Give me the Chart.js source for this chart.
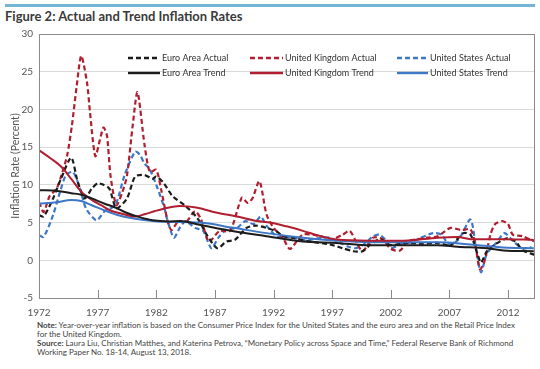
<!DOCTYPE html>
<html>
<head>
<meta charset="utf-8">
<script src="https://cdn.jsdelivr.net/npm/chart.js@4"></script>
<style>
    body { margin: 0; width: 540px; height: 369px; background: #fff; font-family: Lato, "Open Sans", sans-serif; color: #333; overflow: hidden; position: relative; }
    .top-bar { position: absolute; left: 5px; top: 4px; width: 530px; height: 3px; background: #74b4d4; }
    .title { position: absolute; left: 5px; top: 8px; font-size: 13px; font-weight: bold; color: #3a3a3a; }
    .chart-box { position: absolute; left: 0; top: 22px; width: 540px; height: 296px; }
    .notes { position: absolute; left: 37px; top: 321px; width: 500px; font-size: 8px; line-height: 8.8px; color: #444; white-space: nowrap; }
    .notes p { margin: 0 0 0.5px 0; }
</style>
</head>
<body>
<div class="top-bar"></div>
<div class="title">Figure 2: Actual and Trend Inflation Rates</div>
<div class="chart-box"><canvas id="inflationChart"></canvas></div>
<div class="notes">
    <p><b>Note:</b> Year-over-year inflation is based on the Consumer Price Index for the United States and the euro area and on the Retail Price Index<br>for the United Kingdom.</p>
    <p><b>Source:</b> Laura Liu, Christian Matthes, and Katerina Petrova, “Monetary Policy across Space and Time,” Federal Reserve Bank of Richmond<br>Working Paper No. 18-14, August 13, 2018.</p>
</div>
<script>
// Подписи оси X
const yearTicks = [1972, 1977, 1982, 1987, 1992, 1997, 2002, 2007, 2012];

// Фактическая инфляция: [год, %]
const euroActual = [[1972,6.0],[1972.4,5.8],[1973.2,8.2],[1973.9,10.9],[1974.75,13.6],[1975.3,10.4],[1975.9,8.2],[1976.5,9.5],[1977,10.2],[1977.5,10.0],[1978,9.5],[1978.6,6.9],[1979.5,8.2],[1980.2,11.1],[1981,11.3],[1981.7,10.8],[1982,11.1],[1982.6,10.3],[1983.4,8.5],[1984.5,7.2],[1985.5,5.6],[1986.3,3.4],[1987.2,1.6],[1988,2.5],[1988.7,2.7],[1989.7,4.3],[1990.5,4.6],[1991.4,4.3],[1992.3,3.8],[1992.8,3.2],[1993.9,2.9],[1995,2.5],[1996.8,2.1],[1997.9,1.6],[1998.8,1.2],[1999.6,1.2],[2000.2,2.0],[2001.1,2.8],[2002,2.0],[2003.1,2.3],[2004.6,2.2],[2006,2.3],[2007.1,2.0],[2008.2,3.6],[2008.8,3.4],[2009.4,0.8],[2009.7,-0.3],[2010.2,1.2],[2011,2.2],[2011.9,2.9],[2012.6,2.5],[2013.3,1.3],[2014.3,0.7]];
const ukActual = [[1972,7.7],[1972.4,6.4],[1972.9,8.5],[1973.5,9.5],[1973.9,11.2],[1974.4,13.9],[1974.8,17.8],[1975.2,22.9],[1975.6,27.1],[1976.1,23.5],[1976.35,19.6],[1976.8,13.8],[1977.2,16.0],[1977.5,17.6],[1977.8,16.5],[1978.1,11.2],[1978.6,7.3],[1979.1,9.0],[1979.5,11.2],[1980.0,18.0],[1980.4,22.3],[1981.0,15.3],[1981.45,11.7],[1982.0,12.0],[1982.4,9.5],[1983.0,5.0],[1983.3,4.0],[1983.9,5.2],[1984.5,5.0],[1985.3,6.5],[1985.8,5.5],[1986.5,2.5],[1987.4,3.9],[1988.3,3.9],[1989.3,8.3],[1989.8,7.6],[1990.2,8.2],[1990.8,10.5],[1991.4,6.1],[1992,4.3],[1992.8,3.0],[1993.4,1.5],[1994.5,3.4],[1996,3.2],[1997,2.8],[1997.9,3.4],[1998.5,3.9],[1999.1,2.3],[1999.6,1.2],[2000.5,3.0],[2001.3,2.8],[2002,1.5],[2002.8,1.3],[2003.4,2.5],[2004.3,2.8],[2005.1,3.0],[2006,3.2],[2007.1,4.3],[2008,4.0],[2008.8,4.1],[2009.2,2.1],[2009.6,-1.2],[2010,-0.1],[2010.5,3.4],[2010.9,4.8],[2011.5,5.2],[2012,4.8],[2012.4,3.4],[2013.2,3.2],[2014.2,2.5]];
const usActual = [[1972,3.3],[1972.4,3.1],[1973.2,6.0],[1973.8,9.1],[1974.3,11.3],[1974.9,11.7],[1975.5,9.5],[1976,6.9],[1976.9,5.3],[1977.6,6.5],[1978.5,7.3],[1979.3,11.3],[1980.2,14.4],[1980.6,14.0],[1981,12.8],[1981.4,12.2],[1982,10.0],[1982.7,6.9],[1982.9,5.6],[1983.5,3.0],[1984,4.3],[1984.5,5.2],[1985.3,4.3],[1986,3.9],[1986.7,1.6],[1987.3,3.0],[1988,4.1],[1988.9,4.3],[1989.6,5.2],[1990.3,4.8],[1990.9,5.8],[1991.4,4.6],[1992.3,3.1],[1992.8,3.1],[1994,2.9],[1994.8,2.6],[1995.7,2.9],[1996.8,3.0],[1997.7,2.3],[1998.4,1.8],[1999,1.6],[1999.8,2.2],[2000.4,3.1],[2001,3.4],[2001.5,2.8],[2002,1.6],[2002.9,2.2],[2003.5,2.3],[2004.3,2.8],[2005.6,3.6],[2006.3,3.4],[2007,2.1],[2007.8,2.8],[2008.8,5.4],[2009.3,1.3],[2009.7,-1.6],[2010.2,0.9],[2011,2.3],[2011.7,3.6],[2012.4,2.6],[2013.2,1.6],[2014,1.7]];

// Трендовая инфляция: [год, %]
const euroTrend = [[1972,9.3],[1973.6,9.2],[1974.75,8.9],[1975.6,8.7],[1976.5,8.2],[1977.6,7.5],[1978.5,7.0],[1979.3,6.4],[1980.5,5.75],[1981.7,5.3],[1983,5.15],[1984,5.2],[1985.7,4.7],[1988.6,3.85],[1991.4,3.2],[1994.5,2.5],[1997.4,2.3],[2000.2,2.0],[2003.1,2.0],[2006,2.0],[2007.7,1.8],[2010.2,1.6],[2011.6,1.3],[2014.2,1.2]];
const ukTrend = [[1972,14.6],[1973,13.5],[1973.9,12.4],[1974.75,10.8],[1975.6,9.1],[1976.5,8.0],[1977.3,7.3],[1978.1,6.6],[1979,6.2],[1980.2,5.8],[1981,6.1],[1981.85,6.5],[1982.8,6.9],[1984,7.2],[1985.4,7.0],[1987.2,6.3],[1988.9,5.8],[1990.6,5.2],[1991.7,5.0],[1993.1,4.5],[1994.5,3.9],[1996,3.2],[1997.4,2.75],[2000.2,2.6],[2003.1,2.6],[2006,3.0],[2007.7,3.1],[2008.8,2.8],[2011.6,2.8],[2014.2,2.7]];
const usTrend = [[1972,7.5],[1973.5,7.7],[1974.75,8.0],[1975.6,7.85],[1976.5,7.3],[1977.6,6.6],[1978.7,6.0],[1980.2,5.5],[1981.7,5.2],[1983,5.1],[1985.7,5.0],[1988.6,4.3],[1991.4,3.6],[1994.5,3.0],[1997.4,2.6],[2000.2,2.4],[2003.1,2.4],[2006,2.4],[2008.8,2.1],[2011.6,1.7],[2014.2,1.6]];

const BLACK = '#1c1c1c';
const RED = '#b01e2f';
const BLUE = '#3d77c6';
const DASH = [5, 3];
const FONT = 'Lato, "Open Sans", sans-serif';

function toPoints(arr) {
    return arr.map(p => ({ x: p[0], y: p[1] }));
}

function makeSet(label, arr, color, dashed) {
    return {
        label: label,
        data: toPoints(arr),
        borderColor: color,
        backgroundColor: color,
        borderWidth: dashed ? 2.2 : 2,
        borderDash: dashed ? DASH : [],
        pointRadius: 0,
        tension: dashed ? 0.25 : 0.4,
        cubicInterpolationMode: dashed ? 'default' : 'monotone',
        order: dashed ? 2 : 1,
        fill: false
    };
}

// Рамка, внутренние засечки и легенда в три колонки
const framePlugin = {
    id: 'frame',
    afterDatasetsDraw(chart) {
        const { ctx, chartArea: a, scales: { x } } = chart;
        ctx.save();
        ctx.strokeStyle = '#8a8a8a';
        ctx.lineWidth = 1;
        ctx.strokeRect(a.left + 0.5, a.top + 0.5, a.right - a.left - 1, a.bottom - a.top);
        yearTicks.forEach(v => {
            const px = Math.round(x.getPixelForValue(v)) + 0.5;
            ctx.beginPath();
            ctx.moveTo(px, a.bottom);
            ctx.lineTo(px, a.bottom - 8);
            ctx.stroke();
        });

        const cols = [{ x0: 128, x1: 160 }, { x0: 250, x1: 283 }, { x0: 397, x1: 428 }];
        const rows = [36, 51];
        ctx.font = '9px ' + FONT;
        ctx.textBaseline = 'middle';
        chart.data.datasets.forEach((ds, i) => {
            const c = cols[i % 3];
            const y = rows[Math.floor(i / 3)];
            ctx.strokeStyle = ds.borderColor;
            ctx.lineWidth = 2.4;
            ctx.setLineDash(ds.borderDash);
            ctx.beginPath();
            ctx.moveTo(c.x0, y);
            ctx.lineTo(c.x1, y);
            ctx.stroke();
            ctx.setLineDash([]);
            ctx.fillStyle = '#333';
            ctx.fillText(ds.label, c.x1 + 2, y + 0.5);
        });
        ctx.restore();
    }
};

const ctx = document.getElementById('inflationChart').getContext('2d');
new Chart(ctx, {
    type: 'line',
    data: {
        datasets: [
            makeSet('Euro Area Actual', euroActual, BLACK, true),
            makeSet('United Kingdom Actual', ukActual, RED, true),
            makeSet('United States Actual', usActual, BLUE, true),
            makeSet('Euro Area Trend', euroTrend, BLACK, false),
            makeSet('United Kingdom Trend', ukTrend, RED, false),
            makeSet('United States Trend', usTrend, BLUE, false)
        ]
    },
    options: {
        responsive: true,
        maintainAspectRatio: false,
        animation: false,
        layout: { padding: { top: 12, right: 5, left: 0, bottom: 0 } },
        plugins: {
            legend: { display: false },
            tooltip: { enabled: false }
        },
        scales: {
            x: {
                type: 'linear',
                min: 1972,
                max: 2014.3,
                grid: { display: false },
                border: { display: false },
                afterBuildTicks: scale => { scale.ticks = yearTicks.map(v => ({ value: v })); },
                afterFit: scale => { scale.height = 20; },
                ticks: {
                    autoSkip: false,
                    maxRotation: 0,
                    padding: 1,
                    color: '#555',
                    font: { family: FONT, size: 10 },
                    callback: v => String(v)
                }
            },
            y: {
                min: -5,
                max: 30,
                grid: { color: '#d9d9d9', drawTicks: false, lineWidth: 1 },
                border: { display: false },
                afterFit: scale => { scale.width = 39; },
                ticks: {
                    stepSize: 5,
                    padding: 6,
                    color: '#555',
                    font: { family: FONT, size: 10 }
                },
                title: {
                    display: true,
                    text: 'Inflation Rate (Percent)',
                    color: '#555',
                    padding: { top: 9, bottom: 0 },
                    font: { family: FONT, size: 10.5 }
                }
            }
        }
    },
    plugins: [framePlugin]
});
</script>
</body>
</html>
